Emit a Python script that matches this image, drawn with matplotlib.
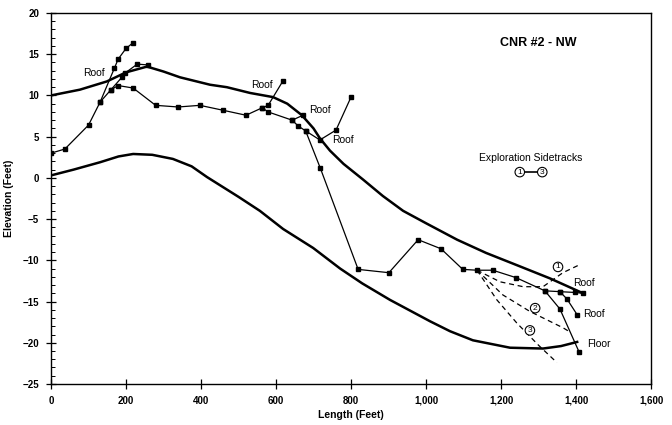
import matplotlib
matplotlib.use("Agg")
import matplotlib.pyplot as plt
from matplotlib.ticker import MultipleLocator, FuncFormatter

plt.rcParams['font.family'] = ['Liberation Sans', 'DejaVu Sans']

# upper (roof) and lower (floor) boundary curves
roof_x = [0, 77, 149, 200, 256, 300, 344, 424, 469, 531, 592, 630, 669, 700, 717, 744, 780, 832, 885, 939, 1000, 1083, 1160, 1243, 1331, 1419]
roof_y = [10.0, 10.7, 11.7, 12.8, 13.5, 12.9, 12.2, 11.3, 11.0, 10.3, 9.8, 9.0, 7.6, 6.0, 4.8, 3.3, 1.7, -0.2, -2.2, -4.0, -5.5, -7.5, -9.1, -10.6, -12.2, -14.0]

floor_x = [0, 60, 131, 180, 219, 270, 325, 375, 416, 500, 557, 619, 699, 771, 830, 904, 1011, 1064, 1125, 1224, 1312, 1360, 1403]
floor_y = [0.3, 1.0, 1.9, 2.6, 2.9, 2.8, 2.3, 1.4, 0.1, -2.3, -4.0, -6.2, -8.5, -11.0, -12.8, -14.8, -17.4, -18.6, -19.7, -20.6, -20.7, -20.4, -19.9]

# main drill path with survey points
path_x = [0, 37, 100, 131, 160, 179, 219, 279, 339, 397, 459, 520, 563, 579, 643, 659, 679, 718,
          819, 901, 979, 1040, 1098, 1136, 1178, 1240, 1317, 1357, 1398, 1419]
path_y = [3.0, 3.5, 6.4, 9.2, 10.7, 11.2, 10.9, 8.8, 8.6, 8.8, 8.2, 7.6, 8.5, 8.0, 7.0, 6.3, 5.7, 1.2,
          -11.1, -11.5, -7.5, -8.6, -11.1, -11.2, -11.2, -12.1, -13.7, -13.8, -13.9, -14.0]

# short branches probing roof / floor
branches = [
    ([131, 169, 179, 200, 219], [9.2, 13.3, 14.4, 15.7, 16.4]),
    ([160, 189, 197, 230, 259], [10.7, 12.2, 12.7, 13.8, 13.7]),
    ([563, 579, 619], [8.5, 8.8, 11.8]),
    ([643, 672], [7.0, 7.6]),
    ([679, 717, 760, 800], [5.7, 4.6, 5.8, 9.8]),
    ([1357, 1376, 1403], [-13.8, -14.7, -16.6]),
    ([1317, 1357, 1408], [-13.7, -15.9, -21.1]),
]

# exploration sidetracks (dashed)
side_x = [
    [1136, 1197, 1259, 1312, 1365, 1411],
    [1136, 1205, 1277, 1366, 1384],
    [1136, 1189, 1242, 1300, 1349],
]
side_y = [
    [-11.2, -12.6, -13.2, -13.2, -11.5, -10.5],
    [-11.2, -14.2, -16.2, -18.2, -18.7],
    [-11.2, -14.8, -17.6, -20.3, -22.4],
]
side_lbl = ['1', '2', '3']
side_lbl_x = [1352, 1291, 1277]
side_lbl_y = [-10.8, -15.8, -18.5]

fig = plt.figure(figsize=(6.72, 4.25), dpi=100)
ax = fig.add_axes([0.0759, 0.0965, 0.8929, 0.8729])

ax.plot(roof_x, roof_y, color='black', lw=1.8)
ax.plot(floor_x, floor_y, color='black', lw=1.8)
ax.plot(path_x, path_y, color='black', lw=0.9, marker='s', ms=2.8)
for bx, by in branches:
    ax.plot(bx, by, color='black', lw=0.9, marker='s', ms=2.8)
for sx, sy in zip(side_x, side_y):
    ax.plot(sx, sy, color='black', lw=0.9, ls=(0, (4, 3)))

circ = dict(boxstyle='circle,pad=0.15', fc='white', ec='black', lw=0.8)
for t, lx, ly in zip(side_lbl, side_lbl_x, side_lbl_y):
    ax.text(lx, ly, t, fontsize=6, ha='center', va='center', bbox=circ)

# text labels
lab = dict(fontsize=7.5, color='black')
ax.text(115, 12.7, 'Roof', ha='center', va='center', **lab)
ax.text(562, 11.3, 'Roof', ha='center', va='center', **lab)
ax.text(716, 8.2, 'Roof', ha='center', va='center', **lab)
ax.text(779, 4.6, 'Roof', ha='center', va='center', **lab)
ax.text(1392, -12.7, 'Roof', ha='left', va='center', **lab)
ax.text(1419, -16.5, 'Roof', ha='left', va='center', **lab)
ax.text(1429, -20.2, 'Floor', ha='left', va='center', **lab)

ax.text(1299, 16.4, 'CNR #2 - NW', fontsize=9, fontweight='bold', ha='center', va='center')
ax.text(1280, 2.4, 'Exploration Sidetracks', fontsize=7.5, ha='center', va='center')
ax.text(1250, 0.7, '1', fontsize=6, ha='center', va='center', bbox=circ)
ax.text(1310, 0.7, '3', fontsize=6, ha='center', va='center', bbox=circ)
ax.plot([1263, 1297], [0.7, 0.7], color='black', lw=1.2)

ax.set_xlim(0, 1600)
ax.set_ylim(-25, 20)
ax.xaxis.set_major_locator(MultipleLocator(200))
ax.yaxis.set_major_locator(MultipleLocator(5))
ax.yaxis.set_minor_locator(MultipleLocator(1))
ax.xaxis.set_major_formatter(FuncFormatter(lambda v, p: f'{int(v):,}'))
ax.tick_params(axis='both', which='major', direction='inout', length=7, width=0.9,
               labelsize=7, pad=5)
ax.tick_params(axis='y', which='minor', direction='in', length=3, width=0.7)
for lbl in ax.get_xticklabels() + ax.get_yticklabels():
    lbl.set_fontweight('bold')
for s in ax.spines.values():
    s.set_linewidth(1.0)

ax.set_xlabel('Length (Feet)', fontsize=7.5, fontweight='bold', labelpad=3)
ax.set_ylabel('Elevation (Feet)', fontsize=7.5, fontweight='bold', labelpad=6)

fig.savefig('out.png', dpi=100)
